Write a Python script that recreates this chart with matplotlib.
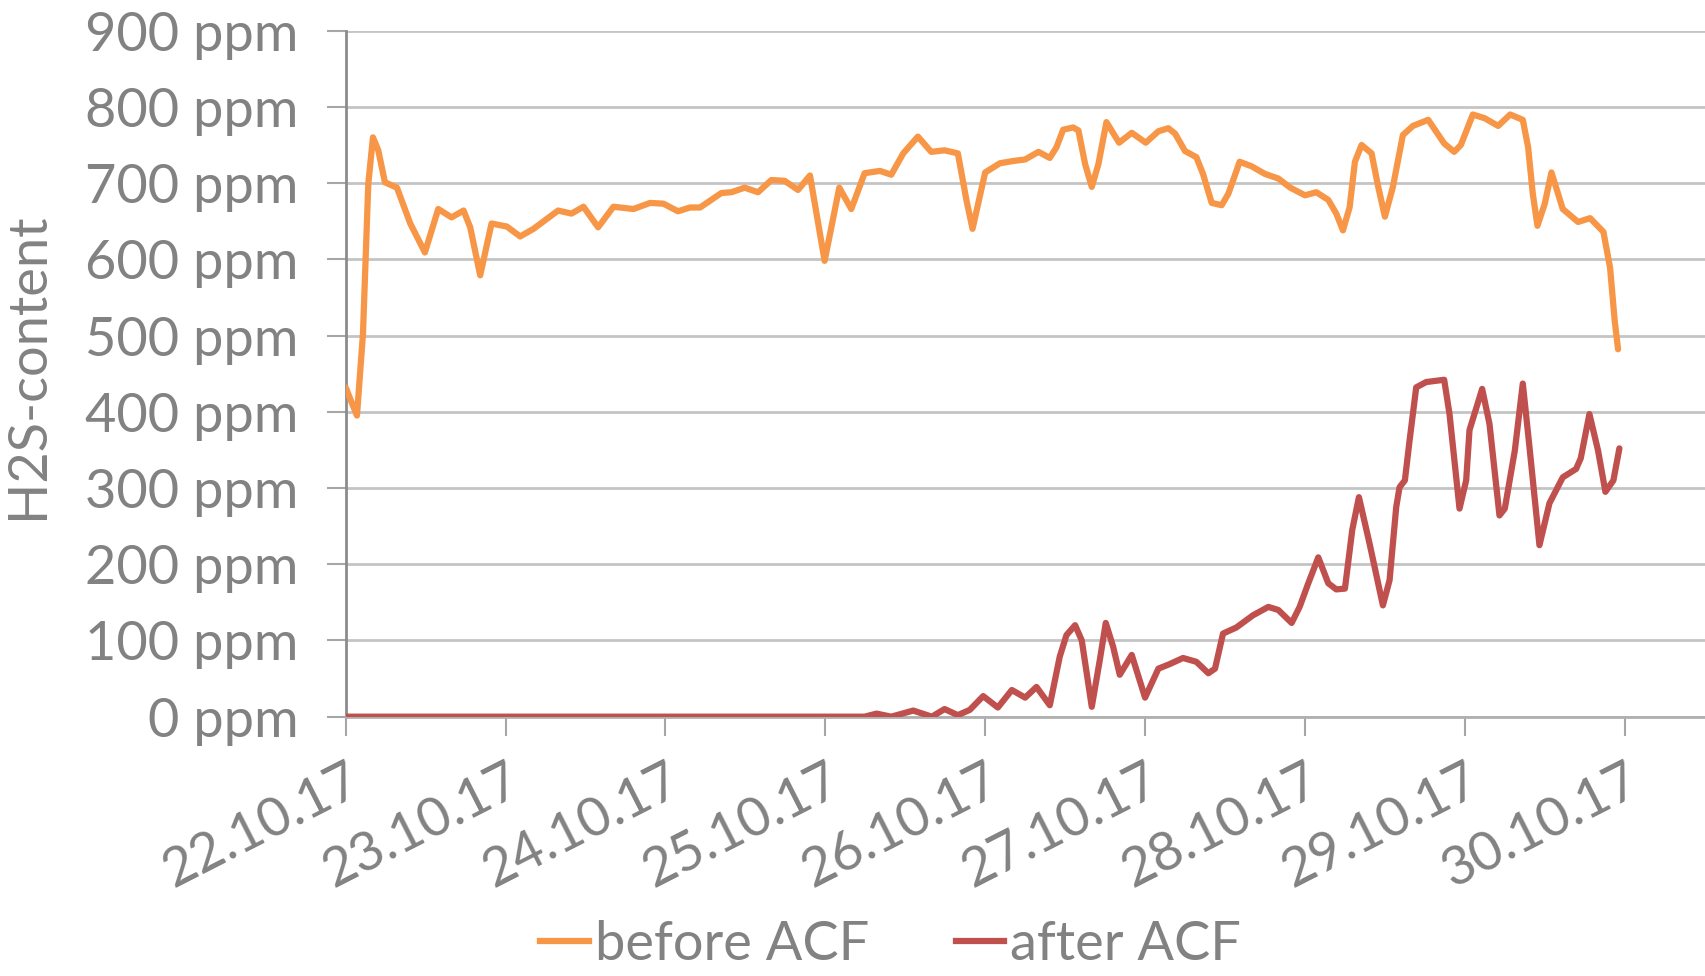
import numpy as np
import matplotlib
matplotlib.use("Agg")
from matplotlib import pyplot as plt
from matplotlib.lines import Line2D

# hours since 22.10.17 00:00
before_t = [0, 1.7, 2.6, 3.4, 4.1, 4.9, 5.9, 7.7, 9.7, 11.9, 13.9, 15.9, 17.7, 18.7, 20.2,
            21.9, 24.2, 26.2, 28.2, 31.9, 33.9, 35.7, 37.9, 40.2, 43.2, 45.7, 47.7, 49.9,
            51.7, 53.2, 56.4, 57.9, 59.9, 61.9, 63.9, 65.9, 67.9, 69.7, 71.9, 74.1, 75.9,
            77.9, 80.2, 81.9, 83.7, 85.9, 87.9, 89.9, 91.9, 93.2, 94.1, 96.0, 98.2, 100.2,
            102.0, 104.0, 105.7, 106.7, 107.7, 109.2, 110.0, 111.0, 112.0, 113.0, 114.2,
            116.1, 118.0, 120.1, 122.0, 123.5, 124.5, 126.0, 127.7, 128.7, 130.0, 131.5,
            132.5, 134.2, 136.0, 138.0, 140.0, 141.8, 144.0, 145.7, 147.5, 148.7, 149.7,
            150.7, 151.5, 152.5, 154.0, 155.0, 156.0, 157.2, 158.7, 160.2, 162.5, 164.9,
            166.4, 167.4, 169.2, 171.0, 173.0, 174.8, 176.7, 177.5, 178.2, 178.9, 180.0,
            181.0, 182.7, 185.0, 186.8, 188.8, 189.8, 190.5, 191.0]
before_ppm = [432, 395, 502, 699, 760, 743, 701, 694, 647, 609, 666, 655, 664, 642, 579,
              647, 643, 630, 640, 664, 660, 669, 642, 669, 666, 674, 673, 663,
              668, 668, 687, 688, 694, 688, 704, 703, 691, 710, 598, 694, 666,
              713, 716, 711, 739, 761, 741, 743, 739, 677, 640, 714, 726, 729,
              731, 741, 733, 747, 770, 773, 769, 725, 695, 725, 780,
              753, 766, 753, 768, 772, 765, 742, 734, 712, 674, 671,
              686, 728, 722, 712, 706, 694, 684, 688, 678, 660, 638,
              668, 728, 750, 739, 695, 656, 695, 763, 775, 783, 752,
              741, 750, 790, 785, 775, 790, 783, 747, 686, 644, 673,
              714, 666, 649, 654, 636, 589, 519, 482]

after_t = [0, 77.9, 79.7, 81.9, 85.2, 88.0, 89.9, 91.9, 93.7, 95.7, 97.9, 100.0, 102.0,
           103.7, 105.7, 107.2, 108.2, 109.5, 110.5, 112.0, 113.2, 114.1, 115.2, 116.2,
           118.0, 120.0, 122.0, 123.7, 125.7, 127.7, 129.5, 130.5, 131.7, 133.7, 136.2,
           138.5, 140.0, 142.0, 143.2, 144.5, 146.0, 147.5, 148.7, 150.0, 151.1, 152.1,
           153.7, 155.7, 156.7, 157.7, 158.2, 159.0, 159.7, 160.7, 162.2, 164.9, 165.7,
           167.2, 168.2, 168.7, 170.6, 171.7, 173.2, 174.0, 175.5, 176.7, 177.7, 179.2,
           180.7, 182.7, 184.7, 185.4, 186.7, 188.0, 189.1, 190.3, 191.2]
after_ppm = [0, 0, 4, 0, 8, 0, 10, 2, 9, 27, 12, 35, 25,
             39, 15, 79, 107, 120, 100, 13, 74, 123, 92, 55,
             81, 25, 63, 69, 77, 72, 57, 63, 109, 117, 133,
             144, 140, 123, 144, 175, 209, 175, 167, 168, 245, 288,
             227, 146, 179, 275, 301, 310, 362, 432, 439, 442, 397,
             273, 310, 376, 430, 384, 264, 273, 349, 437, 354, 225,
             280, 314, 325, 339, 397, 349, 295, 310, 352]

date_labels = ["22.10.17", "23.10.17", "24.10.17", "25.10.17", "26.10.17",
               "27.10.17", "28.10.17", "29.10.17", "30.10.17"]
y_ticks = [0, 100, 200, 300, 400, 500, 600, 700, 800, 900]

txt = "#828282"
fs = 39
plt.rcParams['font.family'] = ['Lato', 'DejaVu Sans']

fig = plt.figure(figsize=(17.06, 9.76), dpi=100)
ax = fig.add_axes([0.2026, 0.2657, 1 - 0.2026, 0.9686 - 0.2657])

ax.plot(before_t, before_ppm, color="#F79646", lw=4.5, solid_joinstyle="round",
        solid_capstyle="round", zorder=3)
ax.plot(after_t, after_ppm, color="#C0504D", lw=4.5, solid_joinstyle="round",
        solid_capstyle="round", zorder=3)

ax.set_xlim(0, 204.2)
ax.set_ylim(0, 900)
ax.set_yticks(y_ticks)
ax.set_yticklabels([f"{v} ppm" for v in y_ticks], fontsize=fs, color=txt)
ax.set_xticks([24 * i for i in range(len(date_labels))])
ax.set_xticklabels(date_labels, fontsize=fs, color=txt, rotation=27, ha="right",
                   rotation_mode="anchor")
ax.tick_params(axis="y", length=14, width=1.5, color="#a6a6a6", pad=20)
ax.tick_params(axis="x", length=14, width=1.5, color="#a6a6a6", pad=14)

ax.grid(axis="y", color="#c4c4c4", lw=2)
ax.set_axisbelow(True)
for s in ["top", "right"]:
    ax.spines[s].set_visible(False)
ax.spines["left"].set_color("#8c8c8c")
ax.spines["left"].set_linewidth(2)
ax.spines["bottom"].set_color("#b0b0b0")
ax.spines["bottom"].set_linewidth(2)

fig.text(0.016, 0.625, "H2S-content", rotation=90, fontsize=fs, color=txt,
         ha="center", va="center")

handles = [Line2D([], [], color="#F79646", lw=4.5), Line2D([], [], color="#C0504D", lw=4.5)]
fig.legend(handles, ["before ACF", "after ACF"], loc="center", bbox_to_anchor=(0.522, 0.032),
           ncol=2, frameon=False, fontsize=fs, labelcolor=txt, handlelength=0.9,
           handletextpad=0.1, columnspacing=1.6)

fig.savefig("out.png", dpi=100)
